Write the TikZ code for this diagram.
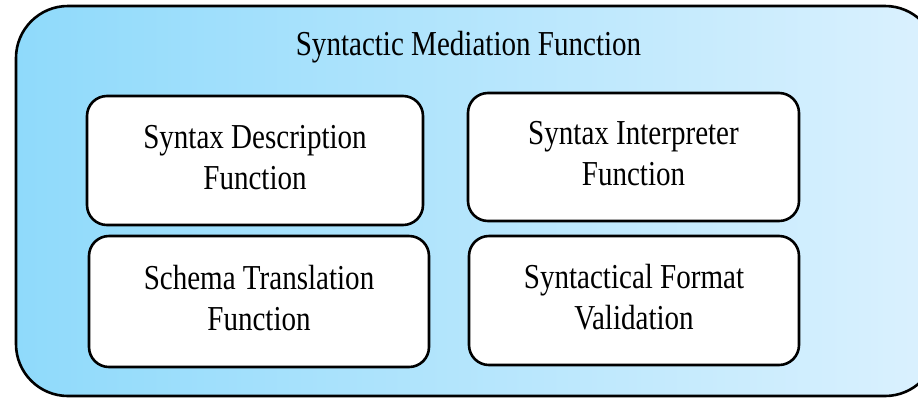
\documentclass[tikz,border=0pt]{standalone}
\usepackage{fontspec}
\usepackage{graphicx}
\setmainfont{Liberation Serif}
\definecolor{panelLeft}{RGB}{143,218,251}
\definecolor{panelRight}{RGB}{219,241,254}
% narrow, tall lettering used throughout
\newcommand\narrowtext[1]{\scalebox{0.83}[1]{\begin{tabular}{@{}c@{}}#1\end{tabular}}}
\tikzset{
  panel/.style={draw=black, line width=2.6bp, rounded corners=52bp,
    left color=panelLeft, right color=panelRight,
    minimum width=921bp, minimum height=390bp, inner sep=0pt},
  funcbox/.style={draw=black, fill=white, line width=2.6bp, rounded corners=20bp,
    inner sep=0pt, align=center,
    font=\fontsize{35bp}{41bp}\selectfont},
  titletext/.style={font=\fontsize{35bp}{41bp}\selectfont, inner sep=0pt}
}
\begin{document}
\begin{tikzpicture}[x=1bp,y=-1bp]
  \useasboundingbox (0,0) rectangle (918,398);
  \clip (0,0) rectangle (918,398);
  % outer container
  \node[panel] (outer) at (476.5,201) {};
  \node[titletext, anchor=base] (title) at (468.5,53) {\narrowtext{Syntactic Mediation Function}};
  % four function blocks
  \node[funcbox, minimum width=336bp, minimum height=129bp] (desc) at (255,160.5)
    {\narrowtext{Syntax Description\\Function}};
  \node[funcbox, minimum width=331bp, minimum height=128bp] (interp) at (633.5,157)
    {\narrowtext{Syntax Interpreter\\Function}};
  \node[funcbox, minimum width=340bp, minimum height=131bp] (schema) at (259,301.5)
    {\narrowtext{Schema Translation\\Function}};
  \node[funcbox, minimum width=330bp, minimum height=129bp] (format) at (634,300.5)
    {\narrowtext{Syntactical Format\\Validation}};
\end{tikzpicture}
\end{document}
